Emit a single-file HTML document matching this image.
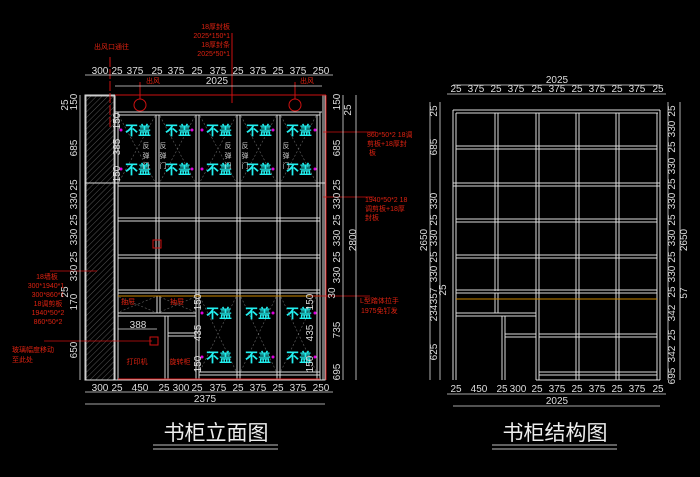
<!DOCTYPE html>
<html><head><meta charset="utf-8"><style>
html,body{margin:0;padding:0;background:#000;width:700px;height:477px;overflow:hidden}
svg{display:block}
text{font-family:"Liberation Sans","Noto Sans CJK SC",sans-serif}
.d{fill:#ddd;font-size:10px;text-anchor:middle}
.r{fill:#d21;font-size:7px;font-family:"Liberation Sans","Noto Sans CJK SC",sans-serif}
.c{fill:#2ee;font-size:13px;font-weight:bold;text-anchor:middle}
.w{fill:#ccc;font-size:7px;text-anchor:middle}
</style></head><body>
<svg width="700" height="477" viewBox="0 0 700 477" xmlns="http://www.w3.org/2000/svg">
<defs>
<pattern id="h" width="4" height="4" patternUnits="userSpaceOnUse" patternTransform="rotate(45)"><line x1="0" y1="0" x2="0" y2="4" stroke="#555" stroke-width="1"/></pattern>
</defs>
<rect width="700" height="477" fill="#000"/>

<g stroke="#ddd" stroke-width="1" fill="none">
<rect x="85" y="95" width="240" height="285"/>
<rect x="86" y="96" width="28" height="284" fill="url(#h)" stroke="#bbb"/>
<line x1="115" y1="95" x2="115" y2="380"/>
<line x1="118" y1="112" x2="118" y2="380"/>
<line x1="115" y1="112" x2="322" y2="112"/>
<line x1="118" y1="115" x2="320" y2="115"/>
<line x1="320" y1="112" x2="320" y2="380"/>
<line x1="323" y1="95" x2="323" y2="380"/>
<line x1="156" y1="115" x2="156" y2="291"/><line x1="159" y1="115" x2="159" y2="291"/>
<line x1="196" y1="115" x2="196" y2="380"/><line x1="199" y1="115" x2="199" y2="380"/>
<line x1="237" y1="115" x2="237" y2="380"/><line x1="240" y1="115" x2="240" y2="380"/>
<line x1="277" y1="115" x2="277" y2="380"/><line x1="280" y1="115" x2="280" y2="380"/>
<line x1="317" y1="115" x2="317" y2="380"/>
<line x1="85" y1="183" x2="325" y2="183"/><line x1="118" y1="186" x2="320" y2="186"/>
<line x1="118" y1="218" x2="320" y2="218"/><line x1="118" y1="221" x2="320" y2="221"/>
<line x1="118" y1="255" x2="320" y2="255"/><line x1="118" y1="258" x2="320" y2="258"/>
<line x1="118" y1="290" x2="320" y2="290"/><line x1="118" y1="293" x2="320" y2="293"/>
<line x1="157" y1="296" x2="157" y2="313"/><line x1="160" y1="296" x2="160" y2="313"/>
<line x1="118" y1="313" x2="196" y2="313"/><line x1="118" y1="316" x2="196" y2="316"/>
<line x1="165" y1="316" x2="165" y2="380"/><line x1="168" y1="316" x2="168" y2="380"/>
<line x1="168" y1="333" x2="196" y2="333"/><line x1="168" y1="336" x2="196" y2="336"/>
<line x1="199" y1="372" x2="320" y2="372"/><line x1="199" y1="375" x2="320" y2="375"/>
<line x1="85" y1="380" x2="325" y2="380"/>
</g>
<line x1="118" y1="296" x2="320" y2="296" stroke="#c80" stroke-width="1"/>
<g stroke="#666" stroke-width="0.6" stroke-dasharray="2,2">
<path d="M119 116 L155 182 M155 116 L119 182 M160 116 L195 182 M195 116 L160 182 M200 116 L236 182 M236 116 L200 182 M241 116 L276 182 M276 116 L241 182 M281 116 L316 182 M316 116 L281 182"/>
<path d="M119 297 L155 312 M155 297 L119 312 M160 297 L195 312 M195 297 L160 312"/>
<path d="M200 297 L236 371 M236 297 L200 371 M241 297 L276 371 M276 297 L241 371 M281 297 L316 371 M316 297 L281 371"/>
</g>
<g class="c">
<text x="138" y="135">不盖</text><text x="178" y="135">不盖</text><text x="219" y="135">不盖</text><text x="259" y="135">不盖</text><text x="299" y="135">不盖</text>
<text x="138" y="174">不盖</text><text x="178" y="174">不盖</text><text x="219" y="174">不盖</text><text x="259" y="174">不盖</text><text x="299" y="174">不盖</text>
<text x="219" y="318">不盖</text><text x="258" y="318">不盖</text><text x="299" y="318">不盖</text>
<text x="219" y="362">不盖</text><text x="258" y="362">不盖</text><text x="299" y="362">不盖</text>
</g>
<g fill="#d0d">
<circle cx="121" cy="130" r="1.5"/><circle cx="192" cy="130" r="1.5"/><circle cx="202" cy="130" r="1.5"/><circle cx="273" cy="130" r="1.5"/><circle cx="315" cy="130" r="1.5"/>
<circle cx="121" cy="169" r="1.5"/><circle cx="192" cy="169" r="1.5"/><circle cx="202" cy="169" r="1.5"/><circle cx="273" cy="169" r="1.5"/><circle cx="315" cy="169" r="1.5"/>
<circle cx="202" cy="313" r="1.5"/><circle cx="273" cy="313" r="1.5"/><circle cx="315" cy="313" r="1.5"/>
<circle cx="202" cy="357" r="1.5"/><circle cx="273" cy="357" r="1.5"/><circle cx="315" cy="357" r="1.5"/>
</g>
<g class="w">
<text x="146" y="148">反</text><text x="146" y="158">弹</text><text x="146" y="168">门</text>
<text x="163" y="148">反</text><text x="163" y="158">弹</text><text x="163" y="168">门</text>
<text x="228" y="148">反</text><text x="228" y="158">弹</text><text x="228" y="168">门</text>
<text x="245" y="148">反</text><text x="245" y="158">弹</text><text x="245" y="168">门</text>
<text x="286" y="148">反</text><text x="286" y="158">弹</text><text x="286" y="168">门</text>
</g>
<g stroke="#c11" stroke-width="1" fill="none">
<line x1="115" y1="95" x2="326" y2="95"/>
<line x1="326" y1="95" x2="326" y2="380"/>
<line x1="118" y1="379" x2="320" y2="379"/>
<line x1="232" y1="33" x2="232" y2="103"/>
<line x1="110" y1="57" x2="110" y2="128" stroke-dasharray="10,2"/>
<circle cx="140" cy="105" r="6"/><circle cx="295" cy="105" r="6"/>
<line x1="140" y1="99" x2="140" y2="82"/><line x1="295" y1="99" x2="295" y2="82"/>
<rect x="153" y="240" width="8" height="8"/>
<rect x="150" y="337" width="8" height="8"/>
</g>
<g stroke="#c11" stroke-width="0.8">
<line x1="323" y1="132" x2="376" y2="132"/>
<line x1="323" y1="197" x2="374" y2="197"/>
<line x1="310" y1="296" x2="370" y2="296"/>
<line x1="50" y1="271" x2="97" y2="271"/>
<line x1="44" y1="341" x2="152" y2="341"/>
</g>
<g class="r">
<text x="230" y="29" text-anchor="end">18厚封板</text>
<text x="230" y="38" text-anchor="end">2025*150*1</text>
<text x="230" y="47" text-anchor="end">18厚封条</text>
<text x="230" y="56" text-anchor="end">2025*50*1</text>
<text x="94" y="49">出风口通往</text>
<text x="146" y="83">出风</text><text x="300" y="83">出风</text>
<text x="367" y="137">860*50*2 18调</text>
<text x="367" y="146">剪板+18厚封</text>
<text x="369" y="155">板</text>
<text x="365" y="202">1940*50*2 18</text>
<text x="365" y="211">调剪板+18厚</text>
<text x="365" y="220">封板</text>
<text x="360" y="303">L型踏体拉手</text>
<text x="361" y="313">1975免钉发</text>
<text x="47" y="279" text-anchor="middle">18墙板</text>
<text x="46" y="288" text-anchor="middle">300*1940*1</text>
<text x="48" y="297" text-anchor="middle">300*860*1</text>
<text x="48" y="306" text-anchor="middle">18调剪板</text>
<text x="48" y="315" text-anchor="middle">1940*50*2</text>
<text x="48" y="324" text-anchor="middle">860*50*2</text>
<text x="12" y="352">玻璃幅度移动</text>
<text x="12" y="362">至此处</text>
<text x="128" y="304" text-anchor="middle">抽屉</text><text x="177" y="304" text-anchor="middle">抽屉</text>
<text x="137" y="364" text-anchor="middle">打印机</text><text x="180" y="364" text-anchor="middle">旋转柜</text>
</g>

<g stroke="#ddd" stroke-width="0.8">
<line x1="85" y1="75" x2="333" y2="75"/>
<line x1="115" y1="86" x2="322" y2="86"/>
<line x1="85" y1="392" x2="333" y2="392"/>
<line x1="85" y1="404" x2="325" y2="404"/>
<line x1="80" y1="95" x2="80" y2="380"/>
<line x1="343" y1="95" x2="343" y2="380"/>
<line x1="356" y1="95" x2="356" y2="380"/>
<line x1="118" y1="329" x2="157" y2="329"/>
</g>
<g class="d">
<text x="100" y="74">300</text><text x="117" y="74">25</text><text x="135" y="74">375</text><text x="157" y="74">25</text><text x="176" y="74">375</text><text x="197" y="74">25</text><text x="218" y="74">375</text><text x="238" y="74">25</text><text x="258" y="74">375</text><text x="278" y="74">25</text><text x="298" y="74">375</text><text x="321" y="74">250</text>
<text x="217" y="84">2025</text>
<text x="100" y="391">300</text><text x="117" y="391">25</text><text x="140" y="391">450</text><text x="164" y="391">25</text><text x="181" y="391">300</text><text x="197" y="391">25</text><text x="218" y="391">375</text><text x="238" y="391">25</text><text x="258" y="391">375</text><text x="278" y="391">25</text><text x="298" y="391">375</text><text x="321" y="391">250</text>
<text x="205" y="402">2375</text>
<text x="138" y="328">388</text>
</g>
<g class="d" font-size="9">
<text transform="translate(68,105) rotate(-90)">25</text>
<text transform="translate(77,102) rotate(-90)">150</text>
<text transform="translate(77,148) rotate(-90)">685</text>
<text transform="translate(77,185) rotate(-90)">25</text>
<text transform="translate(77,201) rotate(-90)">330</text>
<text transform="translate(77,220) rotate(-90)">25</text>
<text transform="translate(77,237) rotate(-90)">330</text>
<text transform="translate(77,257) rotate(-90)">25</text>
<text transform="translate(77,273) rotate(-90)">330</text>
<text transform="translate(68,292) rotate(-90)">25</text>
<text transform="translate(77,302) rotate(-90)">170</text>
<text transform="translate(77,350) rotate(-90)">650</text>
<text transform="translate(120,121) rotate(-90)">150</text>
<text transform="translate(120,147) rotate(-90)">385</text>
<text transform="translate(120,174) rotate(-90)">150</text>
<text transform="translate(201,302) rotate(-90)">150</text>
<text transform="translate(201,333) rotate(-90)">435</text>
<text transform="translate(201,364) rotate(-90)">150</text>
<text transform="translate(313,302) rotate(-90)">150</text>
<text transform="translate(313,333) rotate(-90)">435</text>
<text transform="translate(313,364) rotate(-90)">150</text>
<text transform="translate(340,102) rotate(-90)">150</text>
<text transform="translate(351,110) rotate(-90)">25</text>
<text transform="translate(340,148) rotate(-90)">685</text>
<text transform="translate(340,185) rotate(-90)">25</text>
<text transform="translate(340,201) rotate(-90)">330</text>
<text transform="translate(340,220) rotate(-90)">25</text>
<text transform="translate(340,238) rotate(-90)">330</text>
<text transform="translate(340,257) rotate(-90)">25</text>
<text transform="translate(340,275) rotate(-90)">330</text>
<text transform="translate(335,293) rotate(-90)">30</text>
<text transform="translate(340,330) rotate(-90)">735</text>
<text transform="translate(340,372) rotate(-90)">695</text>
<text transform="translate(356,240) rotate(-90)">2800</text>
</g>

<g stroke="#ddd" stroke-width="1" fill="none">
<line x1="453" y1="110" x2="660" y2="110"/><line x1="456" y1="113" x2="658" y2="113"/>
<line x1="453" y1="110" x2="453" y2="380"/><line x1="456" y1="113" x2="456" y2="380"/>
<line x1="657" y1="113" x2="657" y2="380"/><line x1="660" y1="110" x2="660" y2="380"/>
<line x1="495" y1="113" x2="495" y2="291"/><line x1="498" y1="113" x2="498" y2="291"/>
<line x1="536" y1="113" x2="536" y2="380"/><line x1="539" y1="113" x2="539" y2="380"/>
<line x1="576" y1="113" x2="576" y2="380"/><line x1="579" y1="113" x2="579" y2="380"/>
<line x1="616" y1="113" x2="616" y2="380"/><line x1="619" y1="113" x2="619" y2="380"/>
<line x1="456" y1="146" x2="657" y2="146"/><line x1="456" y1="149" x2="657" y2="149"/>
<line x1="453" y1="183" x2="660" y2="183"/><line x1="453" y1="186" x2="660" y2="186"/>
<line x1="456" y1="219" x2="657" y2="219"/><line x1="456" y1="222" x2="657" y2="222"/>
<line x1="456" y1="255" x2="657" y2="255"/><line x1="456" y1="258" x2="657" y2="258"/>
<line x1="456" y1="290" x2="657" y2="290"/><line x1="456" y1="293" x2="657" y2="293"/>
<line x1="495" y1="293" x2="495" y2="313"/><line x1="498" y1="293" x2="498" y2="313"/>
<line x1="456" y1="313" x2="536" y2="313"/><line x1="456" y1="316" x2="536" y2="316"/>
<line x1="502" y1="316" x2="502" y2="380"/><line x1="505" y1="316" x2="505" y2="380"/>
<line x1="505" y1="334" x2="536" y2="334"/><line x1="505" y1="337" x2="536" y2="337"/>
<line x1="539" y1="334" x2="657" y2="334"/><line x1="539" y1="337" x2="657" y2="337"/>
<line x1="539" y1="372" x2="657" y2="372"/><line x1="539" y1="375" x2="657" y2="375"/>
<line x1="536" y1="380" x2="660" y2="380"/>
</g>
<line x1="456" y1="299" x2="657" y2="299" stroke="#c80" stroke-width="1"/>
<g stroke="#ddd" stroke-width="0.8">
<line x1="453" y1="85" x2="660" y2="85"/>
<line x1="447" y1="94" x2="666" y2="94"/>
<line x1="447" y1="394" x2="666" y2="394"/>
<line x1="453" y1="406" x2="660" y2="406"/>
<line x1="430" y1="102" x2="430" y2="380"/>
<line x1="440" y1="102" x2="440" y2="380"/>
<line x1="668" y1="102" x2="668" y2="380"/>
<line x1="680" y1="102" x2="680" y2="380"/>
</g>
<g class="d">
<text x="557" y="83">2025</text>
<text x="456" y="92">25</text><text x="476" y="92">375</text><text x="496" y="92">25</text><text x="516" y="92">375</text><text x="537" y="92">25</text><text x="557" y="92">375</text><text x="577" y="92">25</text><text x="597" y="92">375</text><text x="617" y="92">25</text><text x="637" y="92">375</text><text x="658" y="92">25</text>
<text x="456" y="392">25</text><text x="479" y="392">450</text><text x="502" y="392">25</text><text x="518" y="392">300</text><text x="537" y="392">25</text><text x="557" y="392">375</text><text x="577" y="392">25</text><text x="597" y="392">375</text><text x="617" y="392">25</text><text x="637" y="392">375</text><text x="658" y="392">25</text>
<text x="557" y="404">2025</text>
</g>
<g class="d" font-size="9">
<text transform="translate(437,111) rotate(-90)">25</text>
<text transform="translate(437,147) rotate(-90)">685</text>
<text transform="translate(437,201) rotate(-90)">330</text>
<text transform="translate(437,220) rotate(-90)">25</text>
<text transform="translate(437,238) rotate(-90)">330</text>
<text transform="translate(437,257) rotate(-90)">25</text>
<text transform="translate(437,274) rotate(-90)">330</text>
<text transform="translate(446,290) rotate(-90)">25</text>
<text transform="translate(437,296) rotate(-90)">357</text>
<text transform="translate(437,313) rotate(-90)">234</text>
<text transform="translate(437,352) rotate(-90)">625</text>
<text transform="translate(427,240) rotate(-90)">2650</text>
<text transform="translate(675,111) rotate(-90)">25</text>
<text transform="translate(675,129) rotate(-90)">330</text>
<text transform="translate(675,147) rotate(-90)">25</text>
<text transform="translate(675,166) rotate(-90)">330</text>
<text transform="translate(675,184) rotate(-90)">25</text>
<text transform="translate(675,201) rotate(-90)">330</text>
<text transform="translate(675,220) rotate(-90)">25</text>
<text transform="translate(675,238) rotate(-90)">330</text>
<text transform="translate(675,257) rotate(-90)">25</text>
<text transform="translate(675,274) rotate(-90)">330</text>
<text transform="translate(675,292) rotate(-90)">25</text>
<text transform="translate(675,313) rotate(-90)">342</text>
<text transform="translate(675,335) rotate(-90)">25</text>
<text transform="translate(675,354) rotate(-90)">342</text>
<text transform="translate(675,376) rotate(-90)">695</text>
<text transform="translate(687,240) rotate(-90)">2650</text>
<text transform="translate(687,293) rotate(-90)">57</text>
</g>

<text x="216" y="440" fill="#eee" font-size="21" text-anchor="middle" font-family="Liberation Sans, Noto Sans CJK SC, sans-serif">书柜立面图</text>
<line x1="153" y1="445" x2="278" y2="445" stroke="#999" stroke-width="1.3"/>
<line x1="153" y1="449" x2="278" y2="449" stroke="#999" stroke-width="1.3"/>
<text x="555" y="440" fill="#eee" font-size="21" text-anchor="middle" font-family="Liberation Sans, Noto Sans CJK SC, sans-serif">书柜结构图</text>
<line x1="492" y1="445" x2="617" y2="445" stroke="#999" stroke-width="1.3"/>
<line x1="492" y1="449" x2="617" y2="449" stroke="#999" stroke-width="1.3"/>
</svg>
</body></html>
